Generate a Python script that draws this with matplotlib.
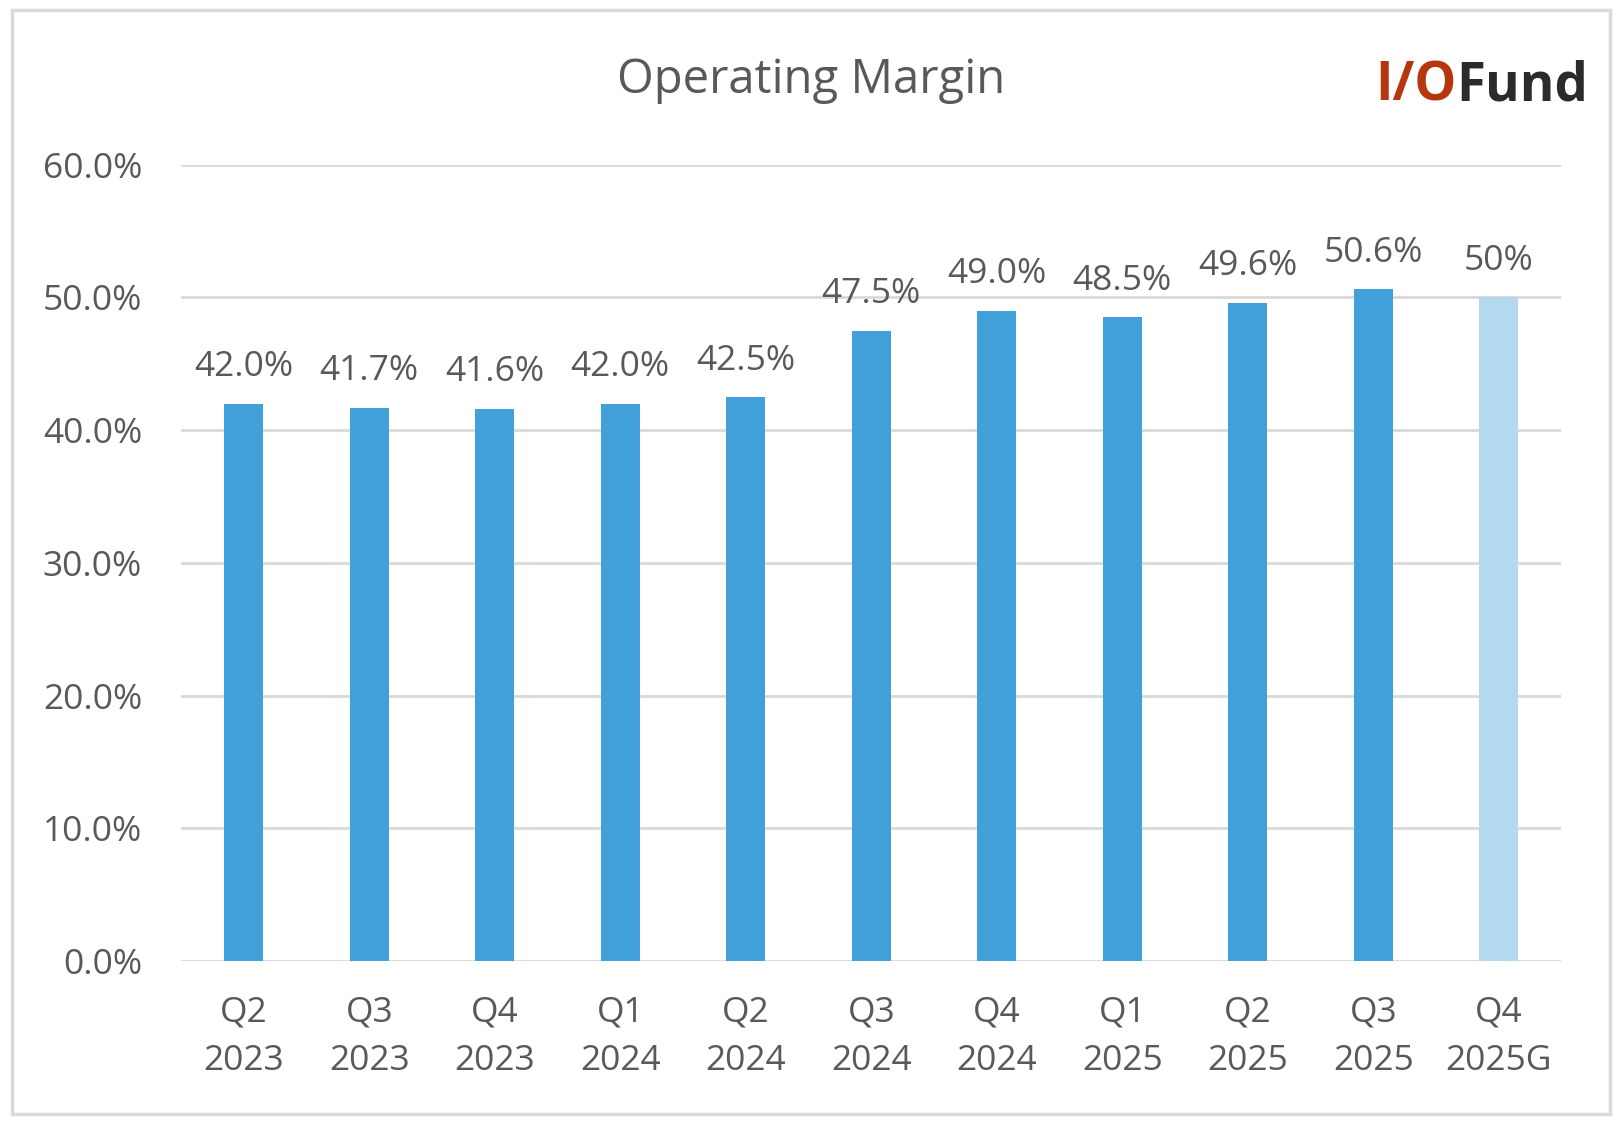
import matplotlib.pyplot as plt
from matplotlib.patches import Rectangle

plt.rcParams['font.family'] = ['Open Sans', 'DejaVu Sans']

quarters = ['Q2\n2023', 'Q3\n2023', 'Q4\n2023', 'Q1\n2024', 'Q2\n2024', 'Q3\n2024',
            'Q4\n2024', 'Q1\n2025', 'Q2\n2025', 'Q3\n2025', 'Q4\n2025G']
margins = [42.0, 41.7, 41.6, 42.0, 42.5, 47.5, 49.0, 48.5, 49.6, 50.6, 50.0]
labels = ['42.0%', '41.7%', '41.6%', '42.0%', '42.5%', '47.5%', '49.0%', '48.5%',
          '49.6%', '50.6%', '50%']
is_guidance = [False] * 10 + [True]

blue = '#41A0DA'
light_blue = '#B4D8EE'
gray = '#595959'

fig = plt.figure(figsize=(16.24, 11.28), dpi=100)
ax = fig.add_axes([0.1115, 0.148, 0.85, 0.706])

colors = [light_blue if g else blue for g in is_guidance]
x = range(len(quarters))
ax.bar(x, margins, width=0.31, color=colors, zorder=3)

for i, (v, t) in enumerate(zip(margins, labels)):
    ax.annotate(t, (i, v), xytext=(0, 14), textcoords='offset points',
                ha='center', va='bottom', fontsize=25.5, color=gray, clip_on=False)

ax.set_ylim(0, 60)
ax.set_xlim(-0.5, len(quarters) - 0.5)
ax.set_yticks(range(0, 61, 10))
ax.set_yticklabels([f'{v:.1f}%' for v in range(0, 61, 10)])
ax.set_xticks(list(x))
ax.set_xticklabels(quarters, linespacing=1.55)
ax.tick_params(axis='both', length=0, labelsize=25.5, labelcolor=gray)
ax.tick_params(axis='y', pad=28)
ax.tick_params(axis='x', pad=25)
ax.grid(axis='y', color='#D9D9D9', linewidth=2, zorder=0)
for s in ax.spines.values():
    s.set_visible(False)

fig.text(0.4995, 0.9285, 'Operating Margin', ha='center', va='center', fontsize=34, color=gray)

# logo
fig.text(0.897, 0.9235, 'I/O', ha='right', va='center', fontsize=38, fontweight='bold',
         color='#B5370F')
fig.text(0.897, 0.9235, 'Fund', ha='left', va='center', fontsize=38, fontweight='bold',
         color='#2B2B2B')

# outer border
fig.patches.append(Rectangle((0.0075, 0.012), 0.984, 0.979, transform=fig.transFigure,
                             fill=False, edgecolor='#D9D9D9', linewidth=2.5))

fig.savefig('out.png', dpi=100)
